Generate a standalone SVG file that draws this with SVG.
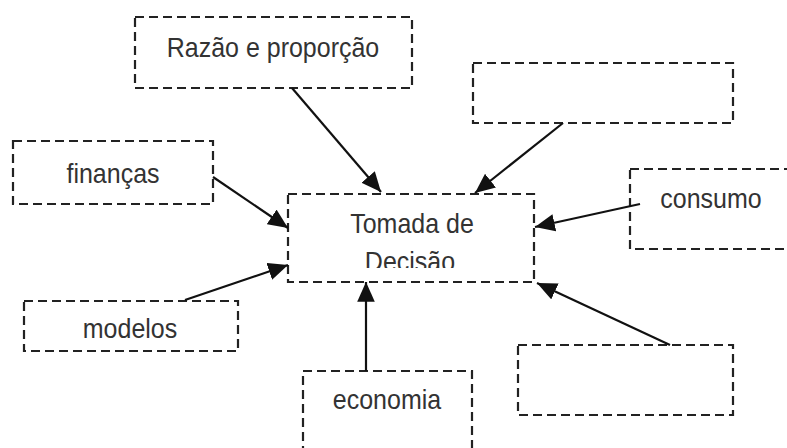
<svg xmlns="http://www.w3.org/2000/svg" width="787" height="448" viewBox="0 0 787 448">
<defs>
<style>
.box{fill:none;stroke:#222;stroke-width:2.2;stroke-dasharray:9 5}
.lbl{font-family:"Liberation Sans",Arial,sans-serif;font-size:25px;fill:#333;text-anchor:middle}
.conn{stroke:#111;stroke-width:2.2;fill:none;marker-end:url(#arr)}
</style>
<marker id="arr" markerWidth="9" markerHeight="8" refX="9" refY="4" orient="auto" markerUnits="strokeWidth">
<path d="M0,0 L9,4 L0,8 z" fill="#111"/>
</marker>
<clipPath id="clipT"><rect x="288" y="194" width="246" height="74"/></clipPath>
</defs>
<rect width="787" height="448" fill="#fff"/>
<g id="razao">
<rect class="box" x="135" y="17" width="277" height="71"/>
<text class="lbl" transform="translate(273 57) scale(1 1.1)">Razão e proporção</text>
</g>
<g id="vazio-topo">
<rect class="box" x="473" y="63" width="260" height="60"/>
</g>
<g id="financas">
<rect class="box" x="13" y="141" width="200" height="63"/>
<text class="lbl" transform="translate(113 183) scale(1 1.1)">finanças</text>
</g>
<g id="consumo">
<rect class="box" x="630" y="169" width="170" height="80"/>
<text class="lbl" transform="translate(711 208) scale(1 1.1)">consumo</text>
</g>
<g id="tomada">
<rect class="box" x="288" y="194" width="246" height="88"/>
<g clip-path="url(#clipT)">
<text class="lbl" transform="translate(412 233) scale(1 1.1)">Tomada de</text>
<text class="lbl" transform="translate(410 271) scale(1 1.1)">Decisão</text>
</g>
</g>
<g id="modelos">
<rect class="box" x="24" y="301" width="214" height="50"/>
<text class="lbl" transform="translate(130 338) scale(1 1.1)">modelos</text>
</g>
<g id="vazio-baixo">
<rect class="box" x="518" y="345" width="215" height="70"/>
</g>
<g id="economia">
<rect class="box" x="303" y="371" width="169" height="90"/>
<text class="lbl" transform="translate(387 409) scale(1 1.1)">economia</text>
</g>
<g id="connectors">
<line class="conn" x1="292" y1="88" x2="381" y2="192"/>
<line class="conn" x1="563" y1="123" x2="475" y2="193"/>
<line class="conn" x1="213" y1="177" x2="288" y2="228"/>
<line class="conn" x1="640" y1="204" x2="535" y2="227"/>
<line class="conn" x1="185" y1="300" x2="288" y2="265"/>
<line class="conn" x1="366" y1="371" x2="366" y2="282"/>
<line class="conn" x1="670" y1="345" x2="537" y2="283"/>
</g>
</svg>
